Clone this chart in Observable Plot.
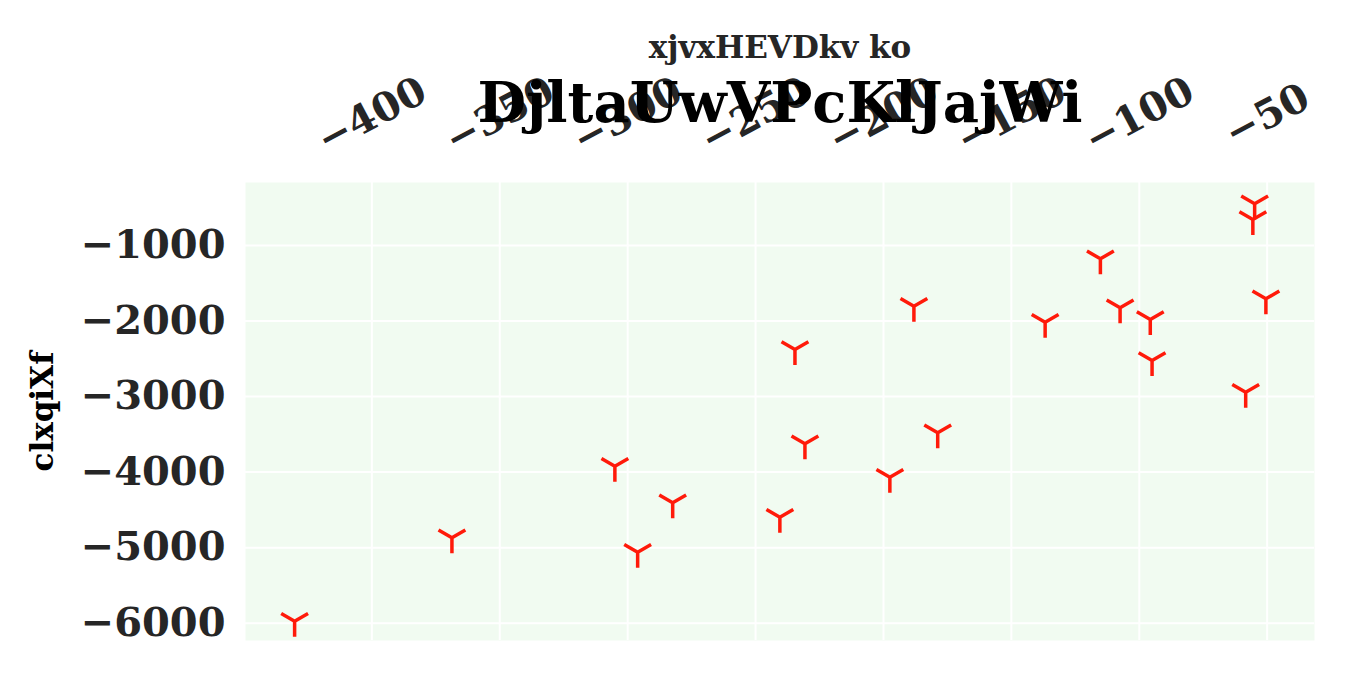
<!DOCTYPE html>
<html><head><meta charset="utf-8">
<script src="https://cdn.jsdelivr.net/npm/d3@7"></script>
<script src="https://cdn.jsdelivr.net/npm/@observablehq/plot@0.6"></script>
<style>body{margin:0;background:#fff} #chart svg{display:block}</style>
</head><body><div id="chart"></div>
<script>
const title = "DjltaUwVPcKlJajWi";
const xLabel = "xjvxHEVDkv ko";
const yLabel = "clxqiXf";
const xValues = [-430.2, -368.7, -305.0, -282.4, -296.1, -240.5, -230.7, -197.5, -178.8, -234.6, -188.1, -136.8, -115.2, -107.5, -95.7, -95.0, -58.4, -50.5, -54.9, -55.6];
const yValues = [-5973, -4869, -3922, -4406, -5060, -4597, -3625, -4067, -3479, -2377, -1803, -2015, -1176, -1825, -1980, -2522, -2942, -1706, -448, -656];
const xTicks = [-400, -350, -300, -250, -200, -150, -100, -50];
const yTicks = [-6000, -5000, -4000, -3000, -2000, -1000];

const points = xValues.map((x, i) => ({x, y: yValues[i]}));
const fmt = d3.format("d");

// matplotlib-like "tri_down" marker
const triDown = {
  draw(context, size) {
    const r = Math.sqrt(size / Math.PI);
    context.moveTo(0, 0); context.lineTo(0, r);
    context.moveTo(0, 0); context.lineTo(-0.866 * r, -0.5 * r);
    context.moveTo(0, 0); context.lineTo(0.866 * r, -0.5 * r);
  }
};

const chart = Plot.plot({
  width: 1350,
  height: 675,
  marginLeft: 245,
  marginRight: 36,
  marginTop: 182,
  marginBottom: 35,
  style: {fontFamily: "DejaVu Serif", fontWeight: "bold", background: "#fff"},
  x: {domain: [-449.4, -31.5]},
  y: {domain: [-6229, -166]},
  marks: [
    Plot.frame({fill: "#f1fbf1", stroke: null}),
    Plot.gridX(xTicks, {stroke: "#ffffff", strokeOpacity: 1, strokeWidth: 2}),
    Plot.gridY(yTicks, {stroke: "#ffffff", strokeOpacity: 1, strokeWidth: 2}),
    Plot.axisY(yTicks, {tickSize: 0, tickPadding: 20, fontSize: 40, fill: "#262626", tickFormat: fmt, label: null}),
    Plot.axisX(xTicks, {anchor: "top", tickSize: 0, tickPadding: 67, tickRotate: -28, textAnchor: "middle", lineAnchor: "middle", fontSize: 40, fill: "#262626", tickFormat: fmt, label: null}),
    Plot.dot(points, {x: "x", y: "y", symbol: triDown, r: 15.5, fill: "none", stroke: "#ff1a0a", strokeWidth: 3.5, strokeLinecap: "butt"}),
    Plot.text([title], {frameAnchor: "top", lineAnchor: "bottom", dy: -61, fontSize: 56, fill: "#000", fontWeight: "bold"}),
    Plot.text([xLabel], {frameAnchor: "top", lineAnchor: "bottom", dy: -125, fontSize: 31, fill: "#262626", fontWeight: "bold"}),
    Plot.text([yLabel], {frameAnchor: "left", textAnchor: "middle", lineAnchor: "bottom", rotate: -90, dx: -193, fontSize: 31, fill: "#000", fontWeight: "bold"})
  ]
});
document.getElementById("chart").appendChild(chart);
</script>
</body></html>
